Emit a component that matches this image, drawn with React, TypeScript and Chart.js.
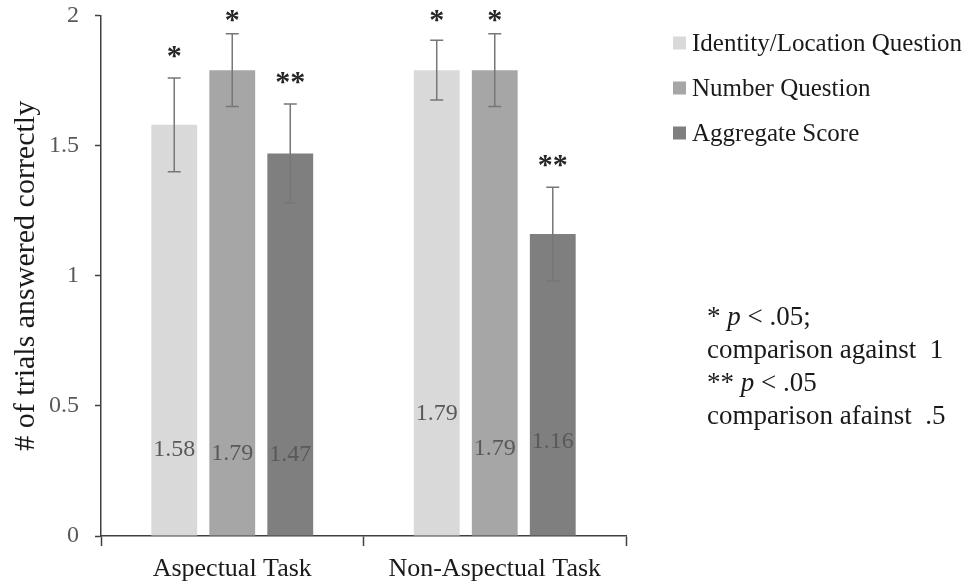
import React, { useEffect, useRef } from 'react';
import { Chart, registerables } from 'chart.js';

Chart.register(...registerables);

const CATEGORIES = ['Aspectual Task', 'Non-Aspectual Task'];
const SERIES_NAMES = ['Identity/Location Question', 'Number Question', 'Aggregate Score'];
const IDENTITY = [1.58, 1.79];
const NUMBER = [1.79, 1.79];
const AGGREGATE = [1.47, 1.16];
const IDENTITY_ERR = [0.18, 0.115];
const NUMBER_ERR = [0.14, 0.14];
const AGGREGATE_ERR = [0.19, 0.18];
const IDENTITY_SIG = ['*', '*'];
const NUMBER_SIG = ['*', '*'];
const AGGREGATE_SIG = ['**', '**'];
const Y_MIN = 0;
const Y_MAX = 2;
const Y_STEP = 0.5;
const Y_TITLE = '# of trials answered correctly';

const COLORS = ['#d9d9d9', '#a6a6a6', '#7f7f7f'];
const FONT = "'Liberation Serif', 'Times New Roman', serif";
// per-bar pixel offsets of value labels relative to a common base (style only)
const LABEL_OFFSETS = [
  [0, 4, 5],
  [-36, -1, -8],
];

const overlayPlugin = {
  id: 'overlay',
  afterDatasetsDraw(chart: any) {
    const ctx = chart.ctx;
    const y = chart.scales.y;
    const errs = [IDENTITY_ERR, NUMBER_ERR, AGGREGATE_ERR];
    const sigs = [IDENTITY_SIG, NUMBER_SIG, AGGREGATE_SIG];
    ctx.save();
    chart.data.datasets.forEach((ds: any, i: number) => {
      const meta = chart.getDatasetMeta(i);
      meta.data.forEach((el: any, j: number) => {
        const v = ds.data[j];
        const e = errs[i][j];
        const x = el.x;
        const yT = y.getPixelForValue(v + e);
        const yB = y.getPixelForValue(v - e);
        // value label
        ctx.font = `24px ${FONT}`;
        ctx.fillStyle = '#595959';
        ctx.textAlign = 'center';
        ctx.textBaseline = 'middle';
        ctx.fillText(v.toFixed(2), x, y.getPixelForValue(0.33) + LABEL_OFFSETS[j][i]);
        // error bar
        ctx.strokeStyle = '#777777';
        ctx.lineWidth = 1.5;
        ctx.beginPath();
        ctx.moveTo(x, yT);
        ctx.lineTo(x, yB);
        ctx.moveTo(x - 6.5, yT);
        ctx.lineTo(x + 6.5, yT);
        ctx.moveTo(x - 6.5, yB);
        ctx.lineTo(x + 6.5, yB);
        ctx.stroke();
        // significance
        const sy = Math.max(yT - 30, 12);
        ctx.font = `bold 30px ${FONT}`;
        ctx.fillStyle = '#262626';
        ctx.textBaseline = 'alphabetic';
        ctx.fillText(sigs[i][j], x, sy + 17);
      });
    });
    ctx.restore();
  },
  afterDraw(chart: any) {
    const ctx = chart.ctx;
    ctx.save();
    // legend
    ctx.font = `25px ${FONT}`;
    ctx.textAlign = 'left';
    ctx.textBaseline = 'middle';
    SERIES_NAMES.forEach((name, i) => {
      const cy = 43 + i * 45;
      ctx.fillStyle = COLORS[i];
      ctx.fillRect(673, cy - 6.5, 13, 13);
      ctx.fillStyle = '#1a1a1a';
      ctx.fillText(name, 692, cy + 1);
    });
    // notes
    const lines: Array<Array<[string, boolean]>> = [
      [['* ', false], ['p', true], [' < .05;', false]],
      [['comparison against  1', false]],
      [['** ', false], ['p', true], [' < .05', false]],
      [['comparison afainst  .5', false]],
    ];
    lines.forEach((segs, i) => {
      let x = 707;
      const cy = 318 + i * 33;
      segs.forEach(([t, it]) => {
        ctx.font = `${it ? 'italic ' : ''}27px ${FONT}`;
        ctx.fillStyle = '#1a1a1a';
        ctx.fillText(t, x, cy);
        x += ctx.measureText(t).width;
      });
    });
    ctx.restore();
  },
};

export default function App() {
  const ref = useRef<HTMLCanvasElement>(null);
  useEffect(() => {
    const datasets = [IDENTITY, NUMBER, AGGREGATE].map((d, i) => ({
      label: SERIES_NAMES[i],
      data: d,
      backgroundColor: COLORS[i],
      borderWidth: 0,
      categoryPercentage: 0.663,
      barPercentage: 0.79,
    }));
    const chart = new Chart(ref.current as HTMLCanvasElement, {
      type: 'bar',
      data: { labels: CATEGORIES, datasets },
      plugins: [overlayPlugin],
      options: {
        animation: false,
        responsive: true,
        maintainAspectRatio: false,
        layout: { padding: { left: 0, top: 15.5, right: 342, bottom: 0 } },
        plugins: { legend: { display: false }, tooltip: { enabled: false } },
        scales: {
          x: {
            afterFit: (s: any) => {
              s.height = 45;
              s.paddingLeft = 0;
              s.paddingRight = 0;
            },
            grid: {
              offset: true,
              drawOnChartArea: false,
              tickLength: 10,
              tickColor: '#404040',
              tickWidth: 1.5,
            },
            border: { color: '#404040', width: 1.5 },
            ticks: {
              color: '#1a1a1a',
              padding: 8,
              font: { family: FONT, size: 26 },
            },
          },
          y: {
            min: Y_MIN,
            max: Y_MAX,
            afterFit: (s: any) => {
              s.width = 101;
              s.paddingTop = 0;
              s.paddingBottom = 0;
            },
            grid: {
              drawOnChartArea: false,
              tickLength: 6,
              tickColor: '#404040',
              tickWidth: 1.5,
            },
            border: { color: '#404040', width: 1.5 },
            ticks: {
              stepSize: Y_STEP,
              color: '#595959',
              padding: 16,
              font: { family: FONT, size: 24 },
              callback: (v: any) => String(Number(v)),
            },
            title: {
              display: true,
              text: Y_TITLE,
              color: '#1a1a1a',
              font: { family: FONT, size: 30 },
              padding: { top: 8, bottom: 0 },
            },
          },
        },
      },
    });
    return () => chart.destroy();
  }, []);
  return (
    <div style={{ position: 'absolute', left: 0, top: 0, width: 968, height: 581, background: '#fff' }}>
      <canvas ref={ref} />
    </div>
  );
}
